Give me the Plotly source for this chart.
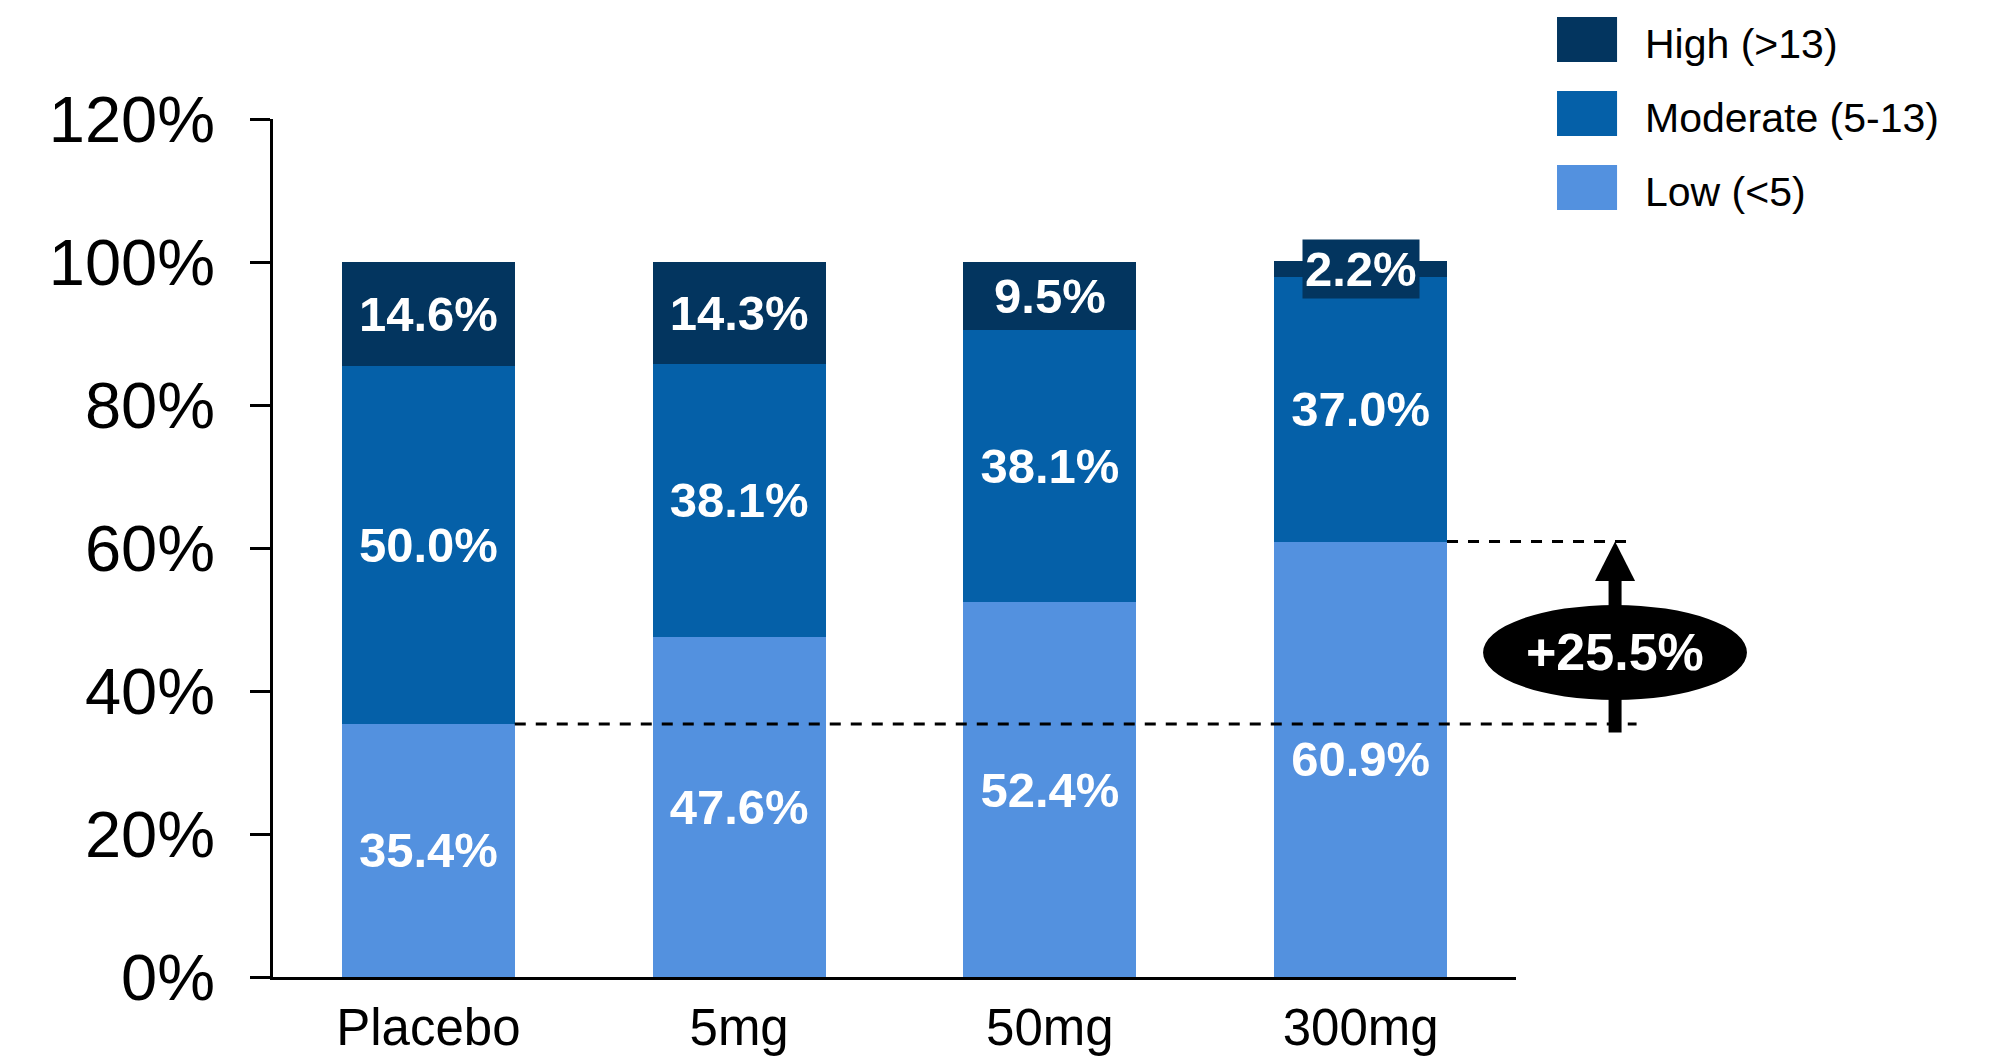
import plotly.graph_objects as go

categories = ["Placebo", "5mg", "50mg", "300mg"]
low = [35.4, 47.6, 52.4, 60.9]
moderate = [50.0, 38.1, 38.1, 37.0]
high = [14.6, 14.3, 9.5, 2.2]
series_names = ["High (>13)", "Moderate (5-13)", "Low (<5)"]
y_ticks = [0, 20, 40, 60, 80, 100, 120]

C_HIGH = "#03355F"
C_MOD = "#0560A8"
C_LOW = "#5391DF"
FONT = "Liberation Sans, Arial, sans-serif"
YMAX = 120
BARGAP = 0.444

fig = go.Figure()
lab_font = dict(family=FONT, size=49, color="white", weight="bold")

def fmt(v):
    return f"{v:.1f}%"

fig.add_trace(go.Bar(x=categories, y=low, name=series_names[2], marker=dict(color=C_LOW, line=dict(width=0)),
                     text=[fmt(v) for v in low], textposition="inside", insidetextanchor="middle",
                     textfont=lab_font, constraintext="none", textangle=0))
fig.add_trace(go.Bar(x=categories, y=moderate, name=series_names[1], marker=dict(color=C_MOD, line=dict(width=0)),
                     text=[fmt(v) for v in moderate], textposition="inside", insidetextanchor="middle",
                     textfont=lab_font, constraintext="none", textangle=0))
# small segments get a boxed annotation instead of inside text
high_text = [fmt(v) if v >= 5 else "" for v in high]
fig.add_trace(go.Bar(x=categories, y=high, name=series_names[0], marker=dict(color=C_HIGH, line=dict(width=0)),
                     text=high_text, textposition="inside", insidetextanchor="middle",
                     textfont=lab_font, constraintext="none", textangle=0))

annotations = []
shapes = []
for i, v in enumerate(high):
    if v < 5:
        annotations.append(dict(x=categories[i], y=low[i] + moderate[i] + v / 2, xref="x", yref="y",
                                text=fmt(v), showarrow=False, font=lab_font, bgcolor=C_HIGH,
                                borderpad=2, xanchor="center", yanchor="middle"))

n = len(categories)
half_w = (1 - BARGAP) / 2 / n
# dashed reference lines
y_lo = low[0] / YMAX
y_hi = low[-1] / YMAX
dash_line = dict(color="black", width=3, dash="11px,10px")
shapes.append(dict(type="line", xref="paper", yref="paper", x0=0.5 / n + half_w, x1=1.097,
                   y0=y_lo, y1=y_lo, line=dash_line, layer="above"))
shapes.append(dict(type="line", xref="paper", yref="paper", x0=(n - 0.5) / n + half_w, x1=1.0925,
                   y0=y_hi, y1=y_hi, line=dash_line, layer="above"))

# arrow
ax_x = 1.0797
head_h = 0.046
head_w = 0.0161
shapes.append(dict(type="line", xref="paper", yref="paper", x0=ax_x, x1=ax_x,
                   y0=y_lo - 0.01, y1=y_hi - head_h + 0.002, line=dict(color="black", width=13)))
shapes.append(dict(type="path", xref="paper", yref="paper",
                   path=f"M {ax_x - head_w},{y_hi - head_h} L {ax_x + head_w},{y_hi - head_h} L {ax_x},{y_hi} Z",
                   fillcolor="black", line=dict(width=0)))
shapes.append(dict(type="circle", xref="paper", yref="paper", x0=0.9735, x1=1.1858, y0=0.3228, y1=0.4336,
                   fillcolor="black", line=dict(width=0)))
annotations.append(dict(x=ax_x, y=0.3788, xref="paper", yref="paper",
                        text=f"+{low[-1] - low[0]:.1f}%", showarrow=False,
                        font=dict(family=FONT, size=52, color="white", weight="bold"),
                        xanchor="center", yanchor="middle"))

# custom legend
leg_colors = [C_HIGH, C_MOD, C_LOW]
leg_top = [1.1189, 1.0326, 0.9464]
sq_h = 0.0525
for name, col, top in zip(series_names, leg_colors, leg_top):
    shapes.append(dict(type="rect", xref="paper", yref="paper", x0=1.033, x1=1.0813,
                       y0=top - sq_h, y1=top, fillcolor=col, line=dict(width=0)))
    annotations.append(dict(x=1.1022, y=top - sq_h / 2 - 0.0047, xref="paper", yref="paper", text=name,
                            showarrow=False, xanchor="left", yanchor="middle",
                            font=dict(family=FONT, size=41, color="black")))

fig.update_layout(
    barmode="stack",
    bargap=BARGAP,
    width=1987, height=1051,
    margin=dict(l=265, r=479, t=111, b=82, autoexpand=False),
    paper_bgcolor="white", plot_bgcolor="white",
    showlegend=False,
    shapes=shapes,
    annotations=annotations,
    font=dict(family=FONT, color="black"),
)
fig.update_xaxes(showline=True, linecolor="black", linewidth=3, ticks="", showgrid=False,
                 tickfont=dict(family=FONT, size=51, color="black"), range=[-0.5, n - 0.5],
                 ticklabelstandoff=4)
fig.update_yaxes(range=[0, YMAX], tickvals=y_ticks, ticktext=[f"{t}%" for t in y_ticks],
                 showline=True, linecolor="black", linewidth=3, ticks="outside", ticklen=20,
                 tickwidth=3, tickcolor="black", showgrid=False, zeroline=False,
                 tickfont=dict(family=FONT, size=65, color="black"), ticklabelstandoff=22)

fig.write_html("out.html")
